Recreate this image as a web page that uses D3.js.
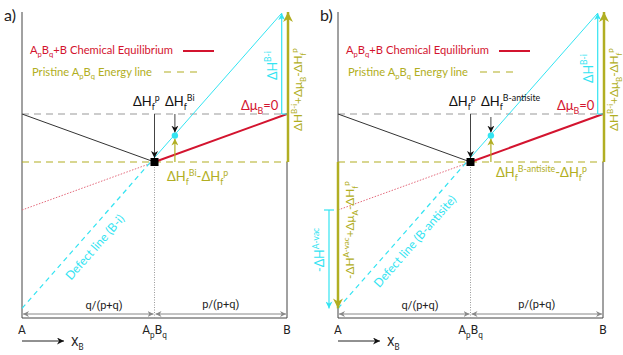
<!DOCTYPE html>
<html lang="en">
<head>
<meta charset="UTF-8">
<title>Defect formation schematic</title>
<script src="https://d3js.org/d3.v7.min.js"></script>
<style>
  body { margin: 0; background: #fff; }
  svg text { font-family: Lato, "Open Sans", sans-serif; }
  .tick-lab { font-family: Roboto, sans-serif; }
</style>
</head>
<body>
<svg id="chart" width="623" height="355"></svg>
<script>
// composition axis (X_B) and energies in arbitrary units (Δμ_B = 0 level is 0)
const compX = [0, 0.5, 1];
const compLabels = [[["A", ""]], [["A", ""], ["p", "sub"], ["B", ""], ["q", "sub"]], [["B", ""]]];
const hullE = [0, -1, 0];                 // A, ApBq, B
const equilExtX = [0, 0.5];               // red dotted extension of equilibrium line
const equilExtE = [-2, -1];
const defectLineX = [0, 0.5, 0.98];       // dashed part then solid part
const defectLineE = [-4.05, -0.91, 2.1];
const defectDotX = 0.577, defectDotE = -0.45;
const panelTags = ["a)", "b)"];
const defectNames = ["Defect line (B-i)", "Defect line (B-antisite)"];
const defectSup = ["Bi", "B-antisite"];
const spanLabels = ["q/(p+q)", "p/(p+q)"];

const RED = "#d3142f", OLIVE = "#b1ae22", CYAN = "#33e4f2", GREY = "#999";

const svg = d3.select("#chart");
const y = d3.scaleLinear().domain([-4.25, 2.125]).range([318, 12]);

const defs = svg.append("defs");
function marker(id, color, size) {
  defs.append("marker").attr("id", id)
    .attr("viewBox", "0 0 10 10").attr("refX", 10).attr("refY", 5)
    .attr("markerUnits", "userSpaceOnUse")
    .attr("markerWidth", size).attr("markerHeight", size)
    .attr("orient", "auto-start-reverse")
    .append("path").attr("d", "M0,0 L10,5 L0,10 L3,5 z").attr("fill", color);
}
marker("ar-k", "#111", 7);
marker("ar-c", CYAN, 7);
marker("ar-o", OLIVE, 10);
marker("ar-o-s", OLIVE, 7);
marker("ar-g", "#888", 6);

// text with sub / superscripts
function rich(g, x, yy, parts, size, color, anchor) {
  const t = g.append("text").attr("x", x).attr("y", yy)
    .attr("font-size", size).attr("fill", color).attr("text-anchor", anchor || "start");
  let cur = 0;
  parts.forEach(([s, k]) => {
    const target = k === "sub" ? size * 0.3 : k === "sup" ? -size * 0.42 : 0;
    t.append("tspan").attr("dy", target - cur)
      .attr("font-size", k ? size * 0.68 : size).text(s);
    cur = target;
  });
  return t;
}
// rotated text, reading upward from (x, yBottom)
function vrich(g, x, yBottom, parts, size, color) {
  const gg = g.append("g").attr("transform", `translate(${x},${yBottom}) rotate(-90)`);
  return rich(gg, 0, 0, parts, size, color, "start");
}
function line(g, x1, y1, x2, y2) {
  return g.append("line").attr("x1", x1).attr("y1", y1).attr("x2", x2).attr("y2", y2);
}

function panel(i) {
  const dx = i * 316;
  const x = d3.scaleLinear().domain([0, 1]).range([22 + dx, 287 + dx]);
  const g = svg.append("g");
  const x0 = x(0), x1 = x(1), xc = x(0.5);

  g.append("text").attr("x", 4 + dx).attr("y", 21).attr("font-size", 16).attr("fill", "#222").text(panelTags[i]);

  // frame
  line(g, x0, y(2.125), x0, y(-4.25)).attr("stroke", "#444");
  line(g, x0, y(-4.25), x1, y(-4.25)).attr("stroke", "#444");
  line(g, x1, y(-4.25), x1, y(-1)).attr("stroke", "#444");

  // reference levels
  line(g, x0, y(0), x1, y(0)).attr("stroke", GREY).attr("stroke-dasharray", "7,5");
  line(g, x0, y(-1), x1, y(-1)).attr("stroke", OLIVE).attr("stroke-width", 1.2).attr("stroke-dasharray", "7,5");
  line(g, xc, y(-1), xc, y(-4.25)).attr("stroke", GREY).attr("stroke-dasharray", "1,1.5");

  // hull
  line(g, x(compX[0]), y(hullE[0]), x(compX[1]), y(hullE[1])).attr("stroke", "#333");
  line(g, x(compX[1]), y(hullE[1]), x(compX[2]), y(hullE[2])).attr("stroke", RED).attr("stroke-width", 2);
  line(g, x(equilExtX[0]), y(equilExtE[0]), x(equilExtX[1]), y(equilExtE[1]))
    .attr("stroke", "#e46a7c").attr("stroke-dasharray", "1.5,1.5");

  // defect line
  line(g, x(defectLineX[0]), y(defectLineE[0]), x(defectLineX[1]), y(defectLineE[1]))
    .attr("stroke", CYAN).attr("stroke-width", 1.2).attr("stroke-dasharray", "5,4");
  line(g, x(defectLineX[1]), y(defectLineE[1]), x(defectLineX[2]), y(defectLineE[2]))
    .attr("stroke", CYAN).attr("stroke-width", 1);

  // right side arrows
  const xb = x(defectLineX[2]);
  line(g, xb, y(0), xb, y(defectLineE[2])).attr("stroke", CYAN).attr("stroke-width", 1.2).attr("marker-end", "url(#ar-c)");
  line(g, xb, y(0), x1, y(0)).attr("stroke", CYAN).attr("stroke-width", 1.2);
  line(g, x1 + 1, y(-1), x1 + 1, y(2.125)).attr("stroke", OLIVE).attr("stroke-width", 2.5).attr("marker-end", "url(#ar-o)");
  vrich(g, xb - 5, i ? 83 : 80, [["ΔH", ""], ["B-i", "sup"]], 12.5, CYAN);
  vrich(g, x1 + 15, 131, [["ΔH", ""], ["B-i", "sup"], ["+Δμ", ""], ["B", "sub"], ["-ΔH", ""], ["f", "sub"], ["p", "sup"]], 11.8, OLIVE);

  if (i === 1) {
    // left side arrows (A vacancy)
    line(g, x0, y(-1), x0, y(defectLineE[0])).attr("stroke", OLIVE).attr("stroke-width", 2.5).attr("marker-end", "url(#ar-o)");
    const xa = x0 - 9;
    line(g, xa, y(equilExtE[0]), xa, y(defectLineE[0])).attr("stroke", CYAN).attr("stroke-width", 1.2).attr("marker-end", "url(#ar-c)");
    line(g, xa - 5, y(equilExtE[0]), xa + 5, y(equilExtE[0])).attr("stroke", CYAN).attr("stroke-width", 1.2);
    vrich(g, x0 - 14, 272, [["-ΔH", ""], ["A-vac", "sup"]], 12.5, CYAN);
    vrich(g, x0 + 16, 279, [["-ΔH", ""], ["A-vac", "sup"], ["+Δμ", ""], ["A", "sub"], ["-ΔH", ""], ["f", "sub"], ["p", "sup"]], 11.8, OLIVE);
  }

  // formation energy arrows
  line(g, xc, y(0), xc, y(hullE[1]) - 4).attr("stroke", "#444").attr("marker-end", "url(#ar-k)");
  const xd = x(defectDotX);
  line(g, xd, y(0) + (i ? 3 : 0), xd, y(defectDotE) - 3).attr("stroke", "#444").attr("marker-end", "url(#ar-k)");
  line(g, xd, y(-1), xd, y(defectDotE) + 3).attr("stroke", OLIVE).attr("stroke-width", 1.2).attr("marker-end", "url(#ar-o-s)");
  g.append("rect").attr("x", xc - 4).attr("y", y(hullE[1]) - 4).attr("width", 8).attr("height", 8).attr("fill", "#000");
  g.append("circle").attr("cx", xd).attr("cy", y(defectDotE)).attr("r", 3.2).attr("fill", CYAN);

  rich(g, 133 + dx, 106, [["ΔH", ""], ["f", "sub"], ["p", "sup"]], 13, "#111");
  rich(g, 165 + dx, 106, [["ΔH", ""], ["f", "sub"], [defectSup[i], "sup"]], 13, "#111");
  rich(g, 241 + dx, 110, [["Δμ", ""], ["B", "sub"], ["=0", ""]], 13, RED);
  rich(g, 167 + dx + (i ? 13 : 0), 181 - (i ? 4 : 0),
    [["ΔH", ""], ["f", "sub"], [defectSup[i], "sup"], ["-ΔH", ""], ["f", "sub"], ["p", "sup"]], 13, OLIVE);

  // defect line label
  const ang = Math.atan2(y(defectLineE[1]) - y(defectLineE[0]), x(defectLineX[1]) - x(defectLineX[0])) * 180 / Math.PI;
  const lc = i ? [418, 244] : [98, 250];
  g.append("text").attr("transform", `translate(${lc[0]},${lc[1]}) rotate(${ang})`)
    .attr("text-anchor", "middle").attr("font-size", 12).attr("fill", CYAN).text(defectNames[i]);

  // legend
  rich(g, 30 + dx, 54, [["A", ""], ["p", "sub"], ["B", ""], ["q", "sub"], ["+B Chemical Equilibrium", ""]], 11.2, RED);
  line(g, 183 + dx, 51, 214 + dx, 51).attr("stroke", RED).attr("stroke-width", 2);
  rich(g, 32 + dx, 76, [["Pristine A", ""], ["p", "sub"], ["B", ""], ["q", "sub"], [" Energy line", ""]], 11.2, OLIVE);
  line(g, 164 + dx, 72, 198 + dx, 72).attr("stroke", OLIVE).attr("stroke-width", 1.2).attr("stroke-dasharray", "7,6");

  // composition spans
  const ys = 314;
  line(g, x0 + 1, ys, xc - 1, ys).attr("stroke", "#888").attr("marker-start", "url(#ar-g)").attr("marker-end", "url(#ar-g)");
  line(g, xc + 1, ys, x1 - 1, ys).attr("stroke", "#888").attr("marker-start", "url(#ar-g)").attr("marker-end", "url(#ar-g)");
  g.append("text").attr("class", "tick-lab").attr("x", x(0.31)).attr("y", 309).attr("text-anchor", "middle")
    .attr("font-size", 11).attr("fill", "#222").text(spanLabels[0]);
  g.append("text").attr("class", "tick-lab").attr("x", x(0.75)).attr("y", 308).attr("text-anchor", "middle")
    .attr("font-size", 11).attr("fill", "#222").text(spanLabels[1]);

  compX.forEach((c, k) => {
    rich(g, x(c), 334, compLabels[k], 12, "#222", "middle").attr("class", "tick-lab");
  });
  line(g, x0, 341, x0 + 42, 341).attr("stroke", "#222").attr("marker-end", "url(#ar-k)");
  rich(g, x0 + 49, 346, [["X", ""], ["B", "sub"]], 12, "#222").attr("class", "tick-lab");
}

panel(0);
panel(1);
</script>
</body>
</html>
